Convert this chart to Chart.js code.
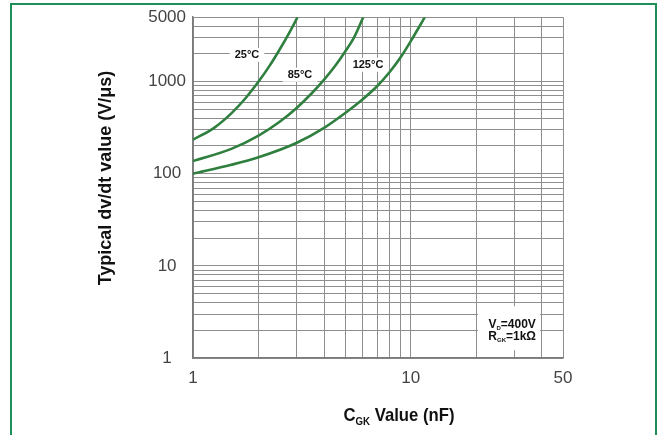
<!DOCTYPE html>
<html>
<head>
<meta charset="utf-8">
<script src="https://cdn.jsdelivr.net/npm/chart.js@4.4.1/dist/chart.umd.min.js"></script>
<style>
  html, body { margin: 0; padding: 0; background: #fff; }
  canvas { display: block; }
</style>
</head>
<body>
<canvas id="chart" width="659" height="435"></canvas>
<script>
// ─── 数据 ─────────────────────────────────────────────────────
const x25  = [1, 1.25, 1.5, 1.75, 2, 2.25, 2.5, 2.75, 3.02];
const y25  = [234, 315, 452, 668, 1000, 1490, 2230, 3300, 5000];

const x85  = [1, 1.5, 2, 2.5, 3, 3.5, 4, 4.5, 5, 5.5, 6.05];
const y85  = [137, 186, 259, 366, 521, 743, 1052, 1486, 2118, 3034, 5000];

const x125 = [1, 1.5, 2, 3, 4, 5, 6, 7, 8, 9, 10, 11.6];
const y125 = [100, 125, 151, 217, 315, 456, 640, 890, 1270, 1850, 2750, 5000];

const xTickLabels = [1, 10, 50];
const yTickLabels = [1, 10, 100, 1000, 5000];
const xGrid = [1, 2, 3, 4, 5, 6, 7, 8, 9, 10, 20, 30, 40, 50];
const yGrid = [];
[1, 10, 100, 1000].forEach(d => { for (let m = 1; m <= 9; m++) if (d * m <= 5000) yGrid.push(d * m); });

const curveLabels = ['25°C', '85°C', '125°C'];
const labelX      = [1.77, 3.1, 6.36];
const labelY      = [1950, 1187, 1522];

// ─── 样式 ──────────────────────────────────────────────────────────
const FONT  = '"Liberation Sans", Arial, Helvetica, sans-serif';
const GREEN = '#2f7f3f';
const GRID  = '#8e8e8e';

const toPts = (xs, ys) => xs.map((x, i) => ({ x, y: ys[i] }));

const curve = (label, xs, ys) => ({
  label, data: toPts(xs, ys),
  borderColor: GREEN, borderWidth: 2.6,
  pointRadius: 0, cubicInterpolationMode: 'monotone', fill: false,
});

// 画 "C" + 下标 "GK" 之类的混排文字，居中于 cx
function richText(ctx, parts, cx, cy) {
  const ws = parts.map(p => { ctx.font = `bold ${p.size}px ${FONT}`; return ctx.measureText(p.t).width; });
  let xx = cx - ws.reduce((a, b) => a + b, 0) / 2;
  ctx.textAlign = 'left';
  ctx.textBaseline = 'alphabetic';
  parts.forEach((p, i) => {
    ctx.font = `bold ${p.size}px ${FONT}`;
    ctx.fillText(p.t, xx, cy + (p.dy || 0));
    xx += ws[i];
  });
}

const decorations = {
  id: 'decorations',
  beforeDatasetsDraw(chart) {
    const { ctx, scales: { x, y } } = chart;
    ctx.save();
    // 曲线温度标签
    ctx.font = `bold 11px ${FONT}`;
    ctx.textAlign = 'center';
    ctx.textBaseline = 'middle';
    curveLabels.forEach((t, i) => {
      const px = x.getPixelForValue(labelX[i]);
      const py = y.getPixelForValue(labelY[i]);
      const w  = ctx.measureText(t).width + 10;
      ctx.fillStyle = '#fff';
      ctx.fillRect(px - w / 2, py - 7, w, 14);
      ctx.fillStyle = '#111';
      ctx.fillText(t, px, py + 0.5);
    });
    // 条件说明框
    const ax = x.getPixelForValue(29.2);
    const ay = y.getPixelForValue(1.81);
    ctx.fillStyle = '#fff';
    ctx.fillRect(ax - 34, ay - 28, 62, 44);
    ctx.fillStyle = '#111';
    richText(ctx, [{ t: 'V', size: 12 }, { t: 'D', size: 6, dy: 2 }, { t: '=400V', size: 12 }], ax, ay - 6);
    richText(ctx, [{ t: 'R', size: 12 }, { t: 'GK', size: 6, dy: 2 }, { t: '=1kΩ', size: 12 }], ax, ay + 6);
    ctx.restore();
  },
  afterDraw(chart) {
    const { ctx } = chart;
    ctx.save();
    ctx.fillStyle = '#111';
    // y 轴标题
    ctx.translate(106, 178);
    ctx.rotate(-Math.PI / 2);
    ctx.font = `bold 18px ${FONT}`;
    ctx.textAlign = 'center';
    ctx.textBaseline = 'middle';
    ctx.fillText('Typical dv/dt value (V/μs)', 0, 0);
    ctx.setTransform(1, 0, 0, 1, 0, 0);
    // x 轴标题（略窄的粗体）
    ctx.translate(399, 0);
    ctx.scale(0.88, 1);
    richText(ctx, [{ t: 'C', size: 19 }, { t: 'GK', size: 11, dy: 4 }, { t: ' Value (nF)', size: 19 }], 0, 421);
    ctx.setTransform(1, 0, 0, 1, 0, 0);
    // 外框
    ctx.strokeStyle = '#1f8f5a';
    ctx.lineWidth = 2;
    ctx.strokeRect(11, 4, 645, 445);
    ctx.restore();
  },
};

new Chart(document.getElementById('chart'), {
  type: 'line',
  data: {
    datasets: [curve('25°C', x25, y25), curve('85°C', x85, y85), curve('125°C', x125, y125)],
  },
  options: {
    responsive: false,
    animation: false,
    layout: { padding: { left: 0, right: 96, top: 15, bottom: 0 } },
    plugins: { legend: { display: false }, tooltip: { enabled: false } },
    scales: {
      x: {
        type: 'logarithmic', min: 1, max: 50,
        afterBuildTicks: s => { s.ticks = xGrid.map(v => ({ value: v })); },
        afterFit: s => { s.height = 77; },
        ticks: {
          autoSkip: false, maxRotation: 0, padding: 10,
          color: '#444', font: { family: FONT, size: 17 },
          callback: v => xTickLabels.includes(v) ? String(v) : '',
        },
        grid: { color: GRID, drawTicks: false },
        border: { color: '#7a7a7a', width: 1.5 },
      },
      y: {
        type: 'logarithmic', min: 1, max: 5000,
        afterBuildTicks: s => { s.ticks = yGrid.map(v => ({ value: v })); },
        afterFit: s => { s.width = 193; },
        ticks: {
          autoSkip: false, padding: 7, crossAlign: 'center',
          color: '#444', font: { family: FONT, size: 17 },
          callback: v => yTickLabels.includes(v) ? String(v) : '',
        },
        grid: { color: GRID, drawTicks: false },
        border: { color: '#7a7a7a', width: 1.5 },
      },
    },
  },
  plugins: [decorations],
});
</script>
</body>
</html>
